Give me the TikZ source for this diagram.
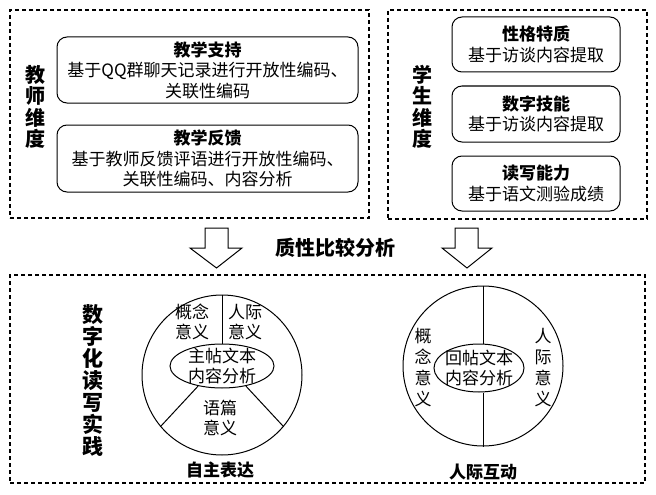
\documentclass[tikz,border=0pt]{standalone}
\usepackage{fontspec}
\setmainfont{Noto Sans CJK SC}
\usetikzlibrary{shapes.geometric,positioning}

\begin{document}
\begin{tikzpicture}[x=1pt,y=-1pt,font=\fontsize{17}{20.5}\selectfont]
\tikzset{dbox/.style={draw,dash pattern=on 4pt off 3pt,line width=1.2pt,inner sep=0pt},
  rbox/.style={draw,rounded corners=10pt,line width=1pt,align=center,inner sep=0pt},
  vlab/.style={align=center,font=\fontsize{20}{21.5}\selectfont\bfseries},
  ring/.style={draw,circle,line width=1pt,minimum size=160pt,inner sep=0pt},
  ell/.style={draw,ellipse,line width=1pt,inner sep=0pt},
  ctxt/.style={align=center,inner sep=0pt,font=\fontsize{17}{20}\selectfont},
  hollow/.style={draw,line width=1pt,fill=white,line join=miter}}
\useasboundingbox (0,0) rectangle (656,495);
\node[dbox,minimum width=359pt,minimum height=208pt] (tbox) at (189.5,114) {};
\node[dbox,minimum width=259pt,minimum height=209pt] (sbox) at (517.5,114.5) {};
\node[dbox,minimum width=635pt,minimum height=208pt] (pbox) at (327.5,379) {};
\node[vlab] (tlab) at (35,107) {教\\师\\维\\度};
\node[rbox,minimum width=301pt,minimum height=66pt] (t1) at (207.5,70) {\textbf{教学支持}\\基于QQ群聊天记录进行开放性编码、\\关联性编码};
\node[rbox,minimum width=301pt,minimum height=67pt] (t2) at (207.5,158.5) {\textbf{教学反馈}\\基于教师反馈评语进行开放性编码、\\关联性编码、内容分析};
\node[vlab] (slab) at (422,107) {学\\生\\维\\度};
\node[rbox,minimum width=168pt,minimum height=55pt] (s1) at (536,44.5) {\textbf{性格特质}\\基于访谈内容提取};
\node[rbox,minimum width=168pt,minimum height=56pt] (s2) at (536,114) {\textbf{数字技能}\\基于访谈内容提取};
\node[rbox,minimum width=168pt,minimum height=55pt] (s3) at (536,183.5) {\textbf{读写能力}\\基于语文测验成绩};
\draw[hollow] (205,228) -- (228,228) -- (228,248) -- (242,248) -- (216.5,268) -- (190,248) -- (205,248) -- cycle;
\draw[hollow] (455,228) -- (478,228) -- (478,248) -- (492,248) -- (467,268) -- (442,248) -- (455,248) -- cycle;
\node[font=\fontsize{20}{22}\selectfont\bfseries] (cmp) at (335,248) {质性比较分析};
\node[vlab,font=\fontsize{21}{22}\selectfont\bfseries] (plab) at (93,380) {数\\字\\化\\读\\写\\实\\践};
\node[ring] (c1) at (222,375) {};
\node[ell,minimum width=104pt,minimum height=44pt] (e1) at (222,366) {};
\draw[line width=1pt] (c1.north) -- (e1.north);
\draw[line width=1pt] (e1.220) -- (c1.220);
\draw[line width=1pt] (e1.320) -- (c1.320);
\node[ctxt] (m1) at (e1) {主帖文本\\内容分析};
\node[ctxt] (g1) at (192,322) {概念\\意义};
\node[ctxt] (r1) at (245,322) {人际\\意义};
\node[ctxt] (y1) at (220,418) {语篇\\意义};
\node[font=\fontsize{17}{20}\selectfont\bfseries] (zz) at (220,470) {自主表达};
\node[ring] (c2) at (483,366) {};
\node[ell,minimum width=90pt,minimum height=48pt] (e2) at (479,368) {};
\draw[line width=1pt] (c2.north) -- (c2.north |- e2.north);
\draw[line width=1pt] (c2.south |- e2.south) -- (c2.south);
\node[ctxt] (m2) at (e2) {回帖文本\\内容分析};
\node[ctxt,font=\fontsize{17}{21}\selectfont] (g2) at (423,368) {概\\念\\意\\义};
\node[ctxt,font=\fontsize{17}{21}\selectfont] (r2) at (543,368) {人\\际\\意\\义};
\node[font=\fontsize{17}{20}\selectfont\bfseries] (hd) at (483,472) {人际互动};
\end{tikzpicture}
\end{document}
